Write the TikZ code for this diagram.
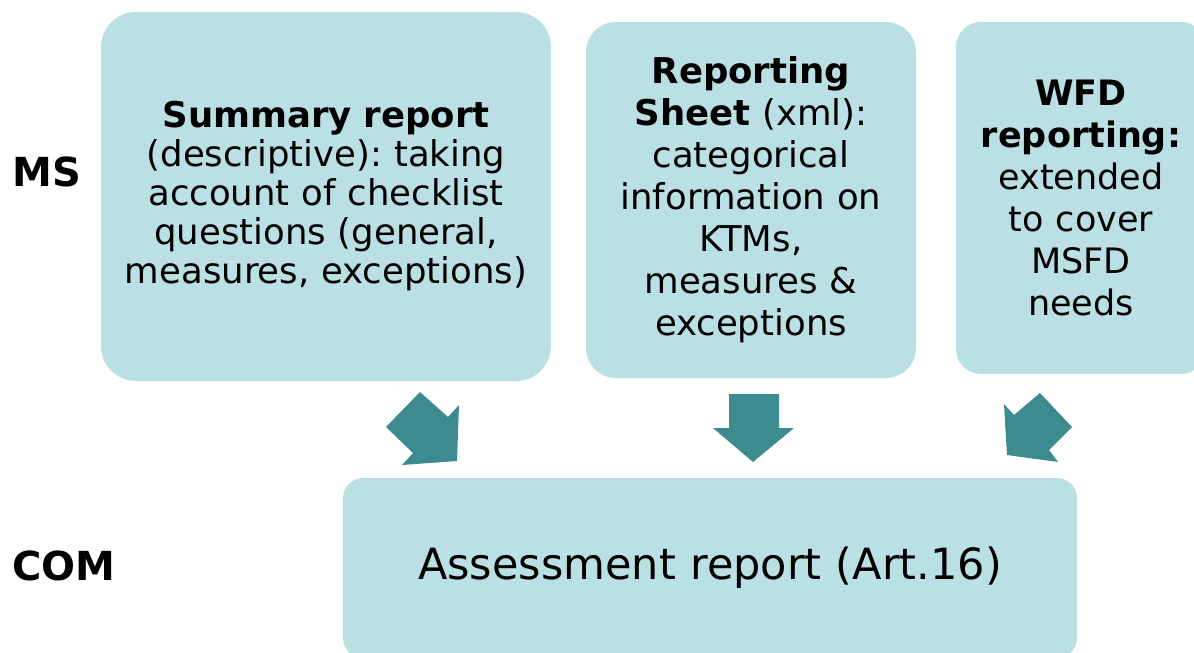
\documentclass[tikz,border=0pt]{standalone}
\usepackage{fontspec}
\setmainfont{DejaVu Sans}
\frenchspacing
\definecolor{boxfill}{RGB}{187,224,228}
\definecolor{arrowfill}{RGB}{61,139,143}
\begin{document}
\begin{tikzpicture}[x=1pt,y=-1pt,
  box/.style={fill=boxfill, draw=none, align=center, inner sep=0pt,
    font=\fontsize{35.5}{39}\selectfont},
  blockarrow/.style={fill=arrowfill, draw=none},
  lbl/.style={font=\fontsize{40}{44}\selectfont\bfseries, anchor=west, inner sep=0pt}]
\useasboundingbox (0,0) rectangle (1194,653);
\clip (0,0) rectangle (1194,653);
\node[box, text width=450pt, minimum height=369pt, rounded corners=35pt] (summary) at (326,196.5)
  {\textbf{Summary report}\\(descriptive): taking\\account of checklist\\questions (general,\\measures, exceptions)};
\node[box, text width=330pt, minimum height=356pt, rounded corners=30pt,
  font=\fontsize{35.5}{42}\selectfont] (sheet) at (751,200)
  {\textbf{Reporting}\\\textbf{Sheet} (xml):\\categorical\\information on\\KTMs,\\measures \&\\exceptions};
\node[box, text width=250pt, minimum height=352pt, rounded corners=25pt,
  font=\fontsize{35}{42}\selectfont] (wfd) at (1081,198)
  {\textbf{WFD}\\\textbf{reporting:}\\extended\\to cover\\MSFD\\needs};
\node[box, text width=734pt, minimum height=180pt, rounded corners=20pt,
  font=\fontsize{43}{48}\selectfont] (assess) at (710,568)
  {Assessment report (Art.16)};
\node[lbl] (ms) at (12,172) {MS};
\node[lbl] (com) at (12,566) {COM};
% block arrows
\fill[blockarrow] (420,392) -- (386,427) -- (413,453) -- (402,465) -- (457,461) -- (459,405) -- (448,417) -- cycle;
\fill[blockarrow] (729,394) -- (779,394) -- (779,428) -- (794,428) -- (753,462) -- (713,428) -- (729,428) -- cycle;
\fill[blockarrow] (1040,393) -- (1072,427) -- (1049,450) -- (1058,462) -- (1007,455) -- (1004,404) -- (1014,415) -- cycle;
\end{tikzpicture}
\end{document}
